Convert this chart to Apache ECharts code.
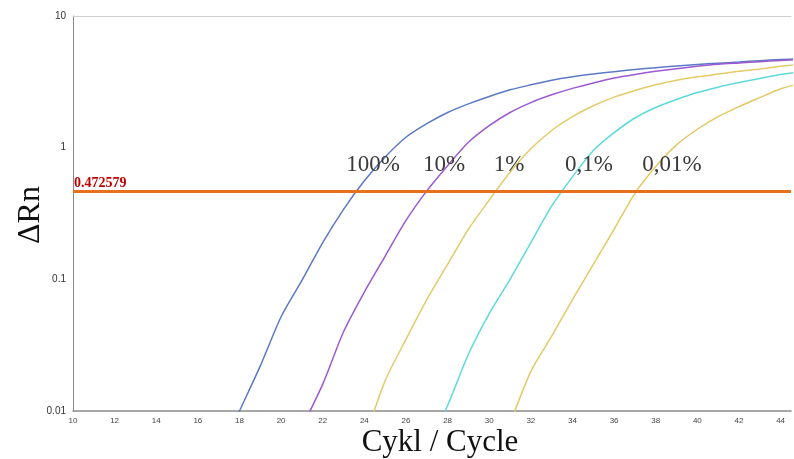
<!DOCTYPE html>
<html>
<head>
<meta charset="utf-8">
<script src="https://cdn.jsdelivr.net/npm/echarts@6/dist/echarts.min.js"></script>
<style>html,body{margin:0;padding:0;background:#fff}#c{width:794px;height:459px}</style>
</head>
<body>
<div id="c"></div>
<script>
var cycles = [17,18,19,20,21,22,23,24,25,26,27,28,29,30,31,32,33,34,35,36,37,38,39,40,41,42,43,44,45];
var s100  = [0.0045,0.010,0.022,0.052,0.098,0.19,0.34,0.56,0.85,1.2,1.52,1.85,2.15,2.45,2.75,3.0,3.25,3.45,3.62,3.78,3.92,4.05,4.17,4.28,4.38,4.47,4.58,4.67,4.74];
var s10   = [null,null,null,null,0.0075,0.016,0.04,0.08,0.15,0.28,0.47,0.73,1.1,1.47,1.85,2.2,2.52,2.82,3.1,3.38,3.6,3.8,3.98,4.15,4.3,4.4,4.5,4.6,4.68];
var s1    = [null,null,null,null,null,null,null,0.006,0.017,0.035,0.07,0.13,0.24,0.4,0.65,0.98,1.35,1.72,2.08,2.42,2.72,3.0,3.25,3.45,3.62,3.8,3.95,4.15,4.3];
var s01   = [null,null,null,null,null,null,null,null,null,null,0.005,0.011,0.027,0.055,0.1,0.19,0.36,0.6,0.95,1.3,1.68,2.02,2.32,2.62,2.88,3.12,3.35,3.6,3.78];
var s001  = [null,null,null,null,null,null,null,null,null,null,null,null,null,null,0.008,0.02,0.037,0.07,0.13,0.24,0.45,0.72,1.05,1.38,1.72,2.05,2.4,2.8,3.1];
var seriesNames = ['100%','10%','1%','0,1%','0,01%'];
var threshold = 0.472579;
var xTicks = [10,12,14,16,18,20,22,24,26,28,30,32,34,36,38,40,42,44];
var yTicks = [0.01,0.1,1,10];

function pairs(vals){ return cycles.map(function(c,i){ return [c, vals[i]]; }); }
var colors = ['#5b79c4','#9c59d1','#e4cb6a','#5edada','#e4c865'];
var allVals = [s100,s10,s1,s01,s001];

var series = allVals.map(function(v,i){
  return {name: seriesNames[i], type:'line', data: pairs(v), showSymbol:false, symbol:'none',
    smooth:0.25,
    lineStyle:{color:colors[i], width:1.5}, itemStyle:{color:colors[i]}, connectNulls:false, clip:true, z:3};
});
series[0].markLine = {
  silent:true, symbol:['none','none'],
  lineStyle:{color:'#e8701a', width:3, type:'solid'},
  label:{show:true, position:'insideStartTop', formatter:'0.472579', color:'#c00000',
    fontFamily:'Liberation Serif', fontWeight:'bold', fontSize:14, distance:[1,0]},
  data:[{yAxis: threshold}], z:5
};

var labelPos = [[373,165],[444,165],[509,165],[589,165],[672,165]];
var graphics = seriesNames.map(function(n,i){
  return {type:'text', x:labelPos[i][0], y:labelPos[i][1], z:10,
    style:{text:n, font:'23px "Liberation Serif"', fill:'#3a3a3a', align:'center', verticalAlign:'middle', textAlign:'center', textVerticalAlign:'middle'}};
});
graphics.push({type:'text', x:31, y:215, rotation:Math.PI/2, z:10,
  style:{text:'ΔRn', font:'32px "Liberation Serif"', fill:'#111', align:'center', verticalAlign:'middle', textAlign:'center', textVerticalAlign:'middle'}});
graphics.push({type:'text', x:440, y:443, z:10,
  style:{text:'Cykl / Cycle', font:'31px "Liberation Serif"', fill:'#111', align:'center', verticalAlign:'middle', textAlign:'center', textVerticalAlign:'middle'}});

var chart = echarts.init(document.getElementById('c'), null, {renderer:'canvas'});
chart.setOption({
  animation:false,
  backgroundColor:'#fff',
  grid:{left:73, right:0, top:16, bottom:48, containLabel:false},
  xAxis:[{
    type:'value', min:10, max:44.5, interval:2, position:'bottom',
    axisLine:{show:true, onZero:false, lineStyle:{color:'#8a8a8a', width:1.5}},
    axisTick:{show:false},
    splitLine:{show:false},
    axisLabel:{fontFamily:'Liberation Sans', fontSize:8, color:'#444', margin:6,
      formatter:function(v){ return xTicks.indexOf(v) >= 0 ? String(v) : ''; }}
  },{
    type:'value', min:10, max:44.5, position:'top',
    axisLine:{show:true, lineStyle:{color:'#cfcfcf', width:1}},
    axisTick:{show:false}, axisLabel:{show:false}, splitLine:{show:false}
  }],
  yAxis:{
    type:'log', logBase:10, min:0.01, max:10,
    axisLine:{show:true, lineStyle:{color:'#8a8a8a', width:1}},
    axisTick:{show:false},
    splitLine:{show:false},
    minorSplitLine:{show:false},
    axisLabel:{fontFamily:'Liberation Sans', fontSize:10, color:'#333', margin:7,
      formatter:function(v){ var r = yTicks.filter(function(t){return Math.abs(t-v)/t < 1e-6;}); return r.length ? String(r[0]) : ''; }}
  },
  series: series,
  graphic: graphics
});
</script>
</body>
</html>
